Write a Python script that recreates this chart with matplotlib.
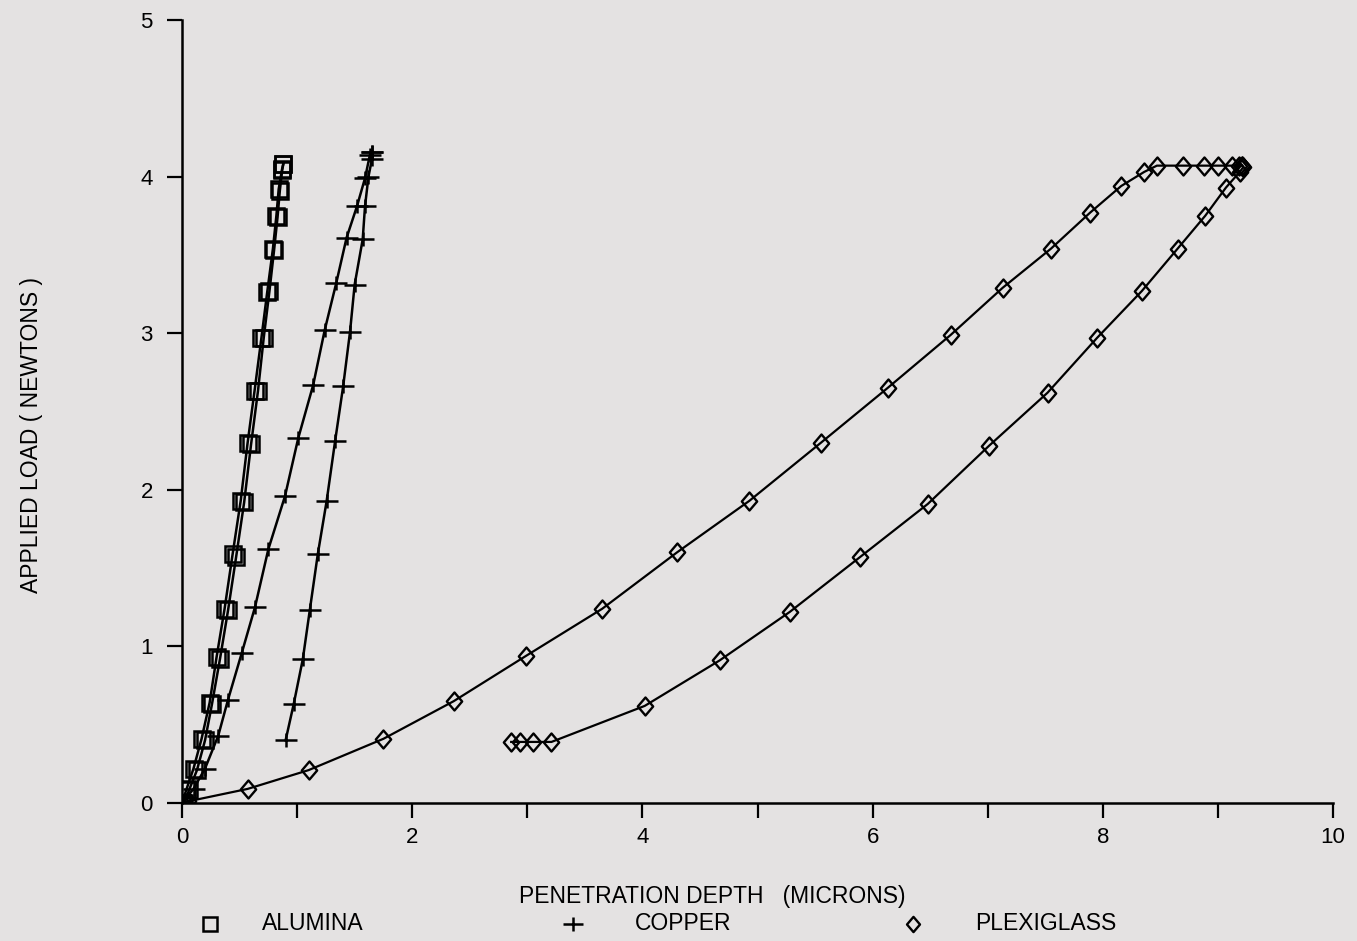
import matplotlib
matplotlib.use('Agg')
from matplotlib import pyplot as plt
from matplotlib.lines import Line2D
from matplotlib.path import Path

plt.rcParams['figure.figsize'] = 1357 / 100, 941 / 100
plt.rcParams['figure.dpi'] = 100
plt.rcParams['font.family'] = ['Liberation Sans', 'DejaVu Sans']

bg = '#e4e2e2'
narrow = ['Liberation Sans Narrow', 'Liberation Sans', 'DejaVu Sans']

# alumina: loading and unloading
alumina_load_x = [0.00, 0.04, 0.10, 0.17, 0.24, 0.30, 0.37, 0.44, 0.51, 0.57, 0.63, 0.69, 0.74, 0.79, 0.82, 0.84, 0.87, 0.88]
alumina_load_y = [0.00, 0.09, 0.22, 0.41, 0.64, 0.93, 1.24, 1.59, 1.93, 2.30, 2.63, 2.97, 3.26, 3.54, 3.75, 3.92, 4.05, 4.08]
alumina_unload_x = [0.88, 0.87, 0.85, 0.83, 0.80, 0.76, 0.71, 0.66, 0.60, 0.54, 0.47, 0.40, 0.33, 0.26, 0.20, 0.13, 0.06, 0.02]
alumina_unload_y = [4.08, 4.04, 3.91, 3.74, 3.53, 3.27, 2.97, 2.63, 2.29, 1.92, 1.57, 1.23, 0.92, 0.63, 0.40, 0.21, 0.08, 0.00]

# copper
copper_load_x = [0.00, 0.10, 0.20, 0.315, 0.40, 0.52, 0.634, 0.75, 0.895, 1.01, 1.14, 1.24, 1.34, 1.43, 1.52, 1.59, 1.633, 1.65]
copper_load_y = [0.00, 0.09, 0.22, 0.43, 0.66, 0.96, 1.25, 1.62, 1.96, 2.33, 2.67, 3.02, 3.32, 3.61, 3.81, 3.99, 4.14, 4.16]
copper_unload_x = [1.65, 1.65, 1.62, 1.59, 1.57, 1.50, 1.46, 1.40, 1.33, 1.257, 1.18, 1.11, 1.05, 0.97, 0.90]
copper_unload_y = [4.16, 4.11, 4.00, 3.81, 3.60, 3.31, 3.01, 2.66, 2.31, 1.93, 1.59, 1.23, 0.92, 0.63, 0.40]

# plexiglass
plexi_load_x = [0.00, 0.05, 0.57, 1.10, 1.75, 2.36, 2.99, 3.65, 4.30, 4.93, 5.55, 6.13, 6.68, 7.13, 7.55, 7.89,
                8.16, 8.36, 8.47, 8.70, 8.88, 9.00, 9.12, 9.18, 9.21]
plexi_load_y = [0.00, 0.01, 0.09, 0.21, 0.41, 0.65, 0.94, 1.24, 1.60, 1.93, 2.30, 2.65, 2.99, 3.29, 3.54, 3.77,
                3.94, 4.03, 4.07, 4.07, 4.07, 4.07, 4.07, 4.07, 4.07]
plexi_unload_x = [9.21, 9.22, 9.19, 9.07, 8.89, 8.65, 8.34, 7.95, 7.52, 7.01, 6.48, 5.89, 5.28, 4.67, 4.02,
                  3.21, 3.05, 2.94, 2.86]
plexi_unload_y = [4.07, 4.06, 4.03, 3.93, 3.75, 3.54, 3.27, 2.97, 2.62, 2.28, 1.91, 1.57, 1.22, 0.91, 0.62,
                  0.39, 0.39, 0.39, 0.39]

legend_names = ['ALUMINA', 'COPPER', 'PLEXIGLASS']

# plus with a longer horizontal bar, diamond a bit taller than wide
wide_plus = Path([(-1, 0), (1, 0), (0, -0.65), (0, 0.65)],
                 [Path.MOVETO, Path.LINETO, Path.MOVETO, Path.LINETO])
tall_diamond = Path([(0, 1), (0.85, 0), (0, -1), (-0.85, 0), (0, 1)],
                    [Path.MOVETO, Path.LINETO, Path.LINETO, Path.LINETO, Path.CLOSEPOLY])

fig = plt.figure(facecolor=bg)
ax = fig.add_axes([182 / 1357, 1 - 803 / 941, (1333 - 182) / 1357, (803 - 20) / 941])
ax.set_facecolor(bg)

sq = dict(color='black', lw=1.8, marker='s', ms=11.5, mfc='none', mec='black', mew=1.8)
ax.plot(alumina_load_x, alumina_load_y, **sq)
ax.plot(alumina_unload_x, alumina_unload_y, **sq)

pl = dict(color='black', lw=1.8, marker=wide_plus, ms=16, mew=1.8)
ax.plot(copper_load_x, copper_load_y, **pl)
ax.plot(copper_unload_x, copper_unload_y, **pl)

dm = dict(color='black', lw=1.6, marker=tall_diamond, ms=13, mfc='none', mec='black', mew=1.7)
ax.plot(plexi_load_x, plexi_load_y, **dm)
ax.plot(plexi_unload_x, plexi_unload_y, **dm)

ax.set_xlim(0, 10)
ax.set_ylim(0, 5)
ax.set_xticks(range(0, 11, 2))
ax.set_xticks(range(1, 10, 2), minor=True)
ax.set_yticks(range(0, 6))
for s in ['top', 'right']:
    ax.spines[s].set_visible(False)
for s in ['left', 'bottom']:
    ax.spines[s].set_linewidth(1.8)
ax.tick_params(axis='both', which='both', direction='out', length=11, width=1.6, labelsize=16)
ax.tick_params(axis='y', pad=10)
ax.tick_params(axis='x', pad=6)

fig.text(712 / 1357, 1 - 896 / 941, 'PENETRATION DEPTH   (MICRONS)', ha='center', va='center',
         fontsize=16.5, family=narrow)
fig.text(32 / 1357, 1 - 435 / 941, 'APPLIED LOAD ( NEWTONS )', ha='center', va='center',
         rotation=90, fontsize=16.5, family=narrow)

# legend row under the x label
legend_markers = [dict(marker='s', ms=10, mfc='none', mec='black', mew=1.8),
                  dict(marker=wide_plus, ms=15, mec='black', mew=1.8),
                  dict(marker=tall_diamond, ms=11, mfc='none', mec='black', mew=1.7)]
marker_px = [210, 573, 913]
text_px = [262, 635, 975]
ly = 1 - 924 / 941
for name, mk, mx, tx in zip(legend_names, legend_markers, marker_px, text_px):
    fig.add_artist(Line2D([mx / 1357], [ly], transform=fig.transFigure, ls='none', **mk))
    fig.text(tx / 1357, ly, name, ha='left', va='center', fontsize=16.5, family=narrow)

plt.savefig('out.png', facecolor=bg)
